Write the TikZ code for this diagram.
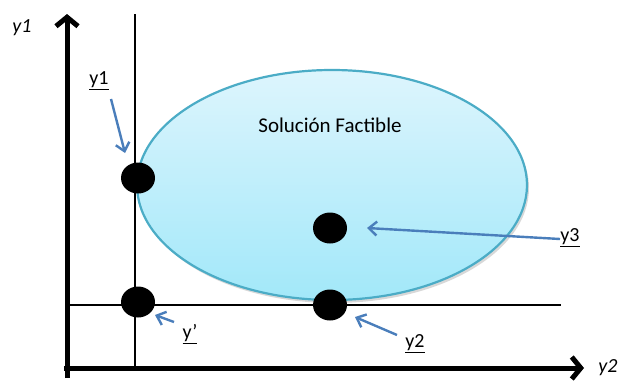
\documentclass[tikz,border=0pt]{standalone}
\usepackage{fontspec}
\setmainfont{Carlito}
\usetikzlibrary{arrows.meta,shapes.geometric}
\definecolor{ellborder}{HTML}{4BACC6}
\definecolor{elltop}{HTML}{DDF5FD}
\definecolor{ellbot}{HTML}{A2E8F9}
\definecolor{arrblue}{HTML}{4A7EBB}
\tikzset{
  axis/.style={line width=5pt,-{Straight Barb[length=9pt,width=22pt,line width=5pt]}},
  thinline/.style={line width=1.6pt},
  dot/.style={ellipse,fill=black,minimum width=34pt,minimum height=31pt,inner sep=0pt},
  ptr/.style={arrblue,line width=2.4pt,-{Straight Barb[length=8pt,width=14pt,line width=2.4pt]}},
  lbl/.style={font=\fontsize{20}{22}\selectfont,inner sep=1pt},
}
\begin{document}
\begin{tikzpicture}[x=1pt,y=-1pt]
\useasboundingbox (0,0) rectangle (618,380);
% ellipse with shadow
\fill[black!30,opacity=0.5] (334,188) ellipse [x radius=195,y radius=115];
\shade[top color=elltop,bottom color=ellbot,draw=ellborder,line width=2.2pt] (332,185) ellipse [x radius=195,y radius=115];
\node[font=\fontsize{21}{24}\selectfont] (sol) at (330,125) {Solución Factible};
% thin lines
\coordinate (vt) at (135,14);
\coordinate (vb) at (135,370);
\coordinate (hl) at (67,305);
\coordinate (hr) at (561,305);
\draw[thinline] (vt) -- (vb);
\draw[thinline] (hl) -- (hr);
% axes
\coordinate (ybot) at (67,378);
\coordinate (ytip) at (67,14);
\coordinate (xleft) at (64,368);
\coordinate (xtip) at (584,368);
\draw[axis] (ybot) -- (ytip);
\draw[axis] (xleft) -- (xtip);
\node[lbl,font=\fontsize{20}{22}\selectfont\itshape] (ay) at (22,28) {y1};
\node[lbl,font=\fontsize{20}{22}\selectfont\itshape] (ax) at (608,368) {y2};
% dots
\node[dot] (d1) at (138,178) {};
\node[dot] (d3) at (330,228) {};
\node[dot] (dp) at (138,302) {};
\node[dot] (d2) at (330,305) {};
% labels
\node[lbl] (l1) at (99,81) {\underline{y1}};
\node[lbl] (lp) at (190,334) {\underline{y’}};
\node[lbl] (l2) at (415,344) {\underline{y2}};
\node[lbl] (l3) at (570,238) {\underline{y3}};
% pointers
\coordinate (s1) at (111,99);
\coordinate (t1) at (125,153);
\coordinate (sp) at (174,322);
\coordinate (tp) at (155,315);
\coordinate (s2) at (397,335);
\coordinate (t2) at (355,317);
\coordinate (s3) at (560,239);
\coordinate (t3) at (367,228);
\draw[ptr] (s1) -- (t1);
\draw[ptr] (sp) -- (tp);
\draw[ptr] (s2) -- (t2);
\draw[ptr] (s3) -- (t3);
\end{tikzpicture}
\end{document}
